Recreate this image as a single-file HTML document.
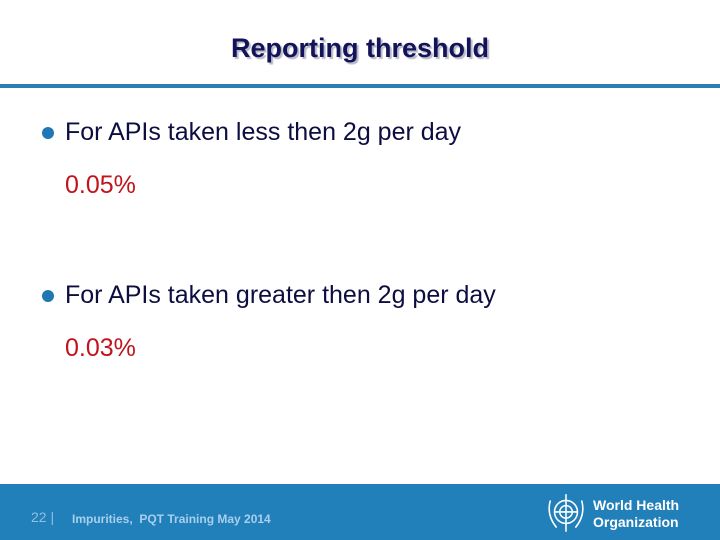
<!DOCTYPE html>
<html><head><meta charset="utf-8"><style>
body{margin:0;width:720px;height:540px;position:relative;background:#fff;font-family:"Liberation Sans",Arial,sans-serif;overflow:hidden}
.t{position:absolute;white-space:nowrap}
</style></head><body>
<div class="t" style="left:0;width:720px;text-align:center;top:33px;font-size:27px;font-weight:bold;color:#13135a;text-shadow:2px 2px 1px #b8b8c8">Reporting threshold</div>
<div style="position:absolute;left:0;top:84px;width:720px;height:4px;background:#2a7fb4"></div>
<div style="position:absolute;left:42px;top:127px;width:12px;height:12px;border-radius:50%;background:#1f78b4"></div>
<div class="t" style="left:65px;top:118px;font-size:25px;color:#0d0d40">For APIs taken less then 2g per day</div>
<div class="t" style="left:65px;top:171px;font-size:25px;color:#c0141c">0.05%</div>
<div style="position:absolute;left:42px;top:290px;width:12px;height:12px;border-radius:50%;background:#1f78b4"></div>
<div class="t" style="left:65px;top:281px;font-size:25px;color:#0d0d40">For APIs taken greater then 2g per day</div>
<div class="t" style="left:65px;top:334px;font-size:25px;color:#c0141c">0.03%</div>
<div style="position:absolute;left:0;top:484px;width:720px;height:56px;background:#217fba">
  <div class="t" style="left:31px;top:25px;font-size:14px;color:#8fc0e0">22 |</div>
  <div class="t" style="left:72px;top:28px;font-size:12px;font-weight:bold;color:#a8d0ec">Impurities,&nbsp; PQT Training May 2014</div>
  <svg style="position:absolute;left:542px;top:6px" width="48" height="48" viewBox="0 0 46 46"><g fill="none" stroke="#fff" stroke-width="1.5"><circle cx="23" cy="21" r="11"/><circle cx="23" cy="21" r="6"/><path d="M8 10 Q4 24 14 36 M38 10 Q42 24 32 36 M23 4 V40 M12 21 H34"/></g></svg>
  <div class="t" style="left:593px;top:13px;font-size:14px;font-weight:bold;color:#fff;line-height:17px">World Health<br>Organization</div>
</div>
</body></html>
